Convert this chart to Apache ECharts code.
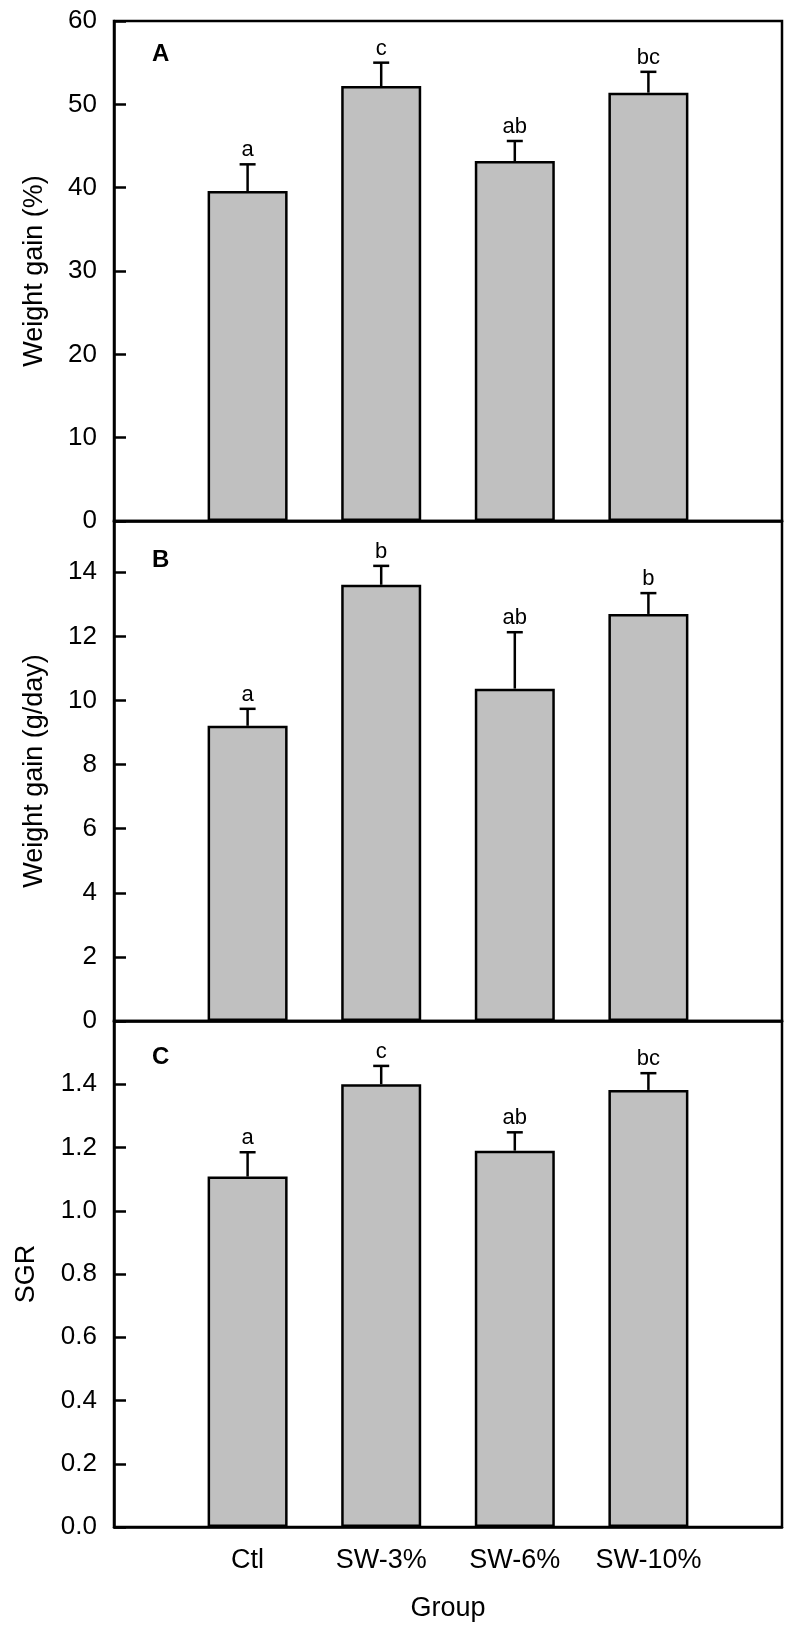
<!DOCTYPE html>
<html>
<head>
<meta charset="utf-8">
<script src="https://cdn.jsdelivr.net/npm/echarts@6/dist/echarts.min.js"></script>
<style>
html,body{margin:0;padding:0;background:#fff;}
#chart{width:800px;height:1635px;}
</style>
</head>
<body>
<div id="chart"></div>
<script>
// ---- data ----
var categories = ['', 'Ctl', 'SW-3%', 'SW-6%', 'SW-10%', ''];
var groupIdx = [1, 2, 3, 4];

var wgPctMean = [39.6, 52.2, 43.2, 51.4];
var wgPctErr  = [3.2, 2.8, 2.4, 2.5];
var wgPctSig  = ['a', 'c', 'ab', 'bc'];

var wgDayMean = [9.21, 13.61, 10.37, 12.70];
var wgDayErr  = [0.53, 0.59, 1.76, 0.65];
var wgDaySig  = ['a', 'b', 'ab', 'b'];

var sgrMean = [1.108, 1.40, 1.19, 1.382];
var sgrErr  = [0.077, 0.058, 0.058, 0.053];
var sgrSig  = ['a', 'c', 'ab', 'bc'];

var panelLetters = ['A', 'B', 'C'];
var yTitles = ['Weight gain (%)', 'Weight gain (g/day)', 'SGR'];
var xTitle = 'Group';

// ---- styling ----
var FONT = '"Liberation Sans", Arial, sans-serif';
var grids = [
  {left: 114, right: 18, top: 21, height: 500},
  {left: 114, right: 18, top: 521, height: 500},
  {left: 114, right: 18, top: 1021, height: 506}
];
var yCfg = [
  {min: 0, max: 60, interval: 10, dec: 0, gap: 66},
  {min: 0, max: 15.6, interval: 2, dec: 0, gap: 66},
  {min: 0, max: 1.6, interval: 0.2, dec: 1, gap: 74}
];

var means = [wgPctMean, wgDayMean, sgrMean];
var errs = [wgPctErr, wgDayErr, sgrErr];
var sigs = [wgPctSig, wgDaySig, sgrSig];

function barData(m) {
  var d = categories.map(function () { return null; });
  groupIdx.forEach(function (ci, i) { d[ci] = m[i]; });
  return d;
}
function errData(m, e, s) {
  return groupIdx.map(function (ci, i) { return [ci, m[i], m[i] + e[i], s[i]]; });
}

function renderErr(params, api) {
  var x = api.value(0);
  var p0 = api.coord([x, api.value(1)]);
  var p1 = api.coord([x, api.value(2)]);
  var half = 8;
  var ls = {stroke: '#000', lineWidth: 2.5};
  return {
    type: 'group',
    children: [
      {type: 'line', shape: {x1: p0[0], y1: p0[1], x2: p1[0], y2: p1[1]}, style: ls},
      {type: 'line', shape: {x1: p1[0] - half, y1: p1[1], x2: p1[0] + half, y2: p1[1]}, style: ls},
      {type: 'text', x: p1[0], y: p1[1] - 3,
        style: {text: String(api.value(3)), fill: '#000', font: '22px ' + FONT, align: 'center', verticalAlign: 'bottom'}}
    ]
  };
}

var xAxes = [], yAxes = [], series = [], graphics = [];
for (var k = 0; k < 3; k++) {
  var last = k === 2;
  xAxes.push({
    gridIndex: k, type: 'category', data: categories, boundaryGap: false,
    axisLine: {show: true, lineStyle: {color: '#000', width: 2.5}},
    axisTick: {show: false},
    axisLabel: {show: last, color: '#000', fontSize: 27, fontFamily: FONT, margin: 20, interval: 0},
    splitLine: {show: false},
    name: last ? xTitle : '', nameLocation: 'middle', nameGap: 68,
    nameTextStyle: {color: '#000', fontSize: 27, fontFamily: FONT}
  });
  (function (cfg) {
    yAxes.push({
      gridIndex: k, type: 'value', min: cfg.min, max: cfg.max, interval: cfg.interval,
      axisLine: {show: true, lineStyle: {color: '#000', width: 2.5}},
      axisTick: {show: true, inside: true, length: 12, lineStyle: {color: '#000', width: 2.5}},
      axisLabel: {color: '#000', fontSize: 26, fontFamily: FONT, margin: 17, showMaxLabel: k === 0,
        formatter: function (v) { return v.toFixed(cfg.dec); }},
      splitLine: {show: false},
      name: yTitles[k], nameLocation: 'middle', nameGap: cfg.gap,
      nameTextStyle: {color: '#000', fontSize: 27, fontFamily: FONT}
    });
  })(yCfg[k]);
  series.push({
    type: 'bar', xAxisIndex: k, yAxisIndex: k, data: barData(means[k]), barWidth: 80,
    itemStyle: {color: '#c0c0c0', borderColor: '#000', borderWidth: 2.5},
    silent: true, animation: false
  });
  series.push({
    type: 'custom', xAxisIndex: k, yAxisIndex: k, data: errData(means[k], errs[k], sigs[k]),
    renderItem: renderErr, silent: true, animation: false, z: 5
  });
}

var panelY = [55, 561, 1058];
panelLetters.forEach(function (t, i) {
  graphics.push({type: 'text', left: 152, top: panelY[i] - 13,
    style: {text: t, fill: '#000', font: 'bold 24px ' + FONT}});
});

var gridOpts = grids.map(function (g) {
  return Object.assign({show: true, borderColor: '#000', borderWidth: 2.5, backgroundColor: 'transparent'}, g);
});

var chart = echarts.init(document.getElementById('chart'), null, {renderer: 'canvas'});
chart.setOption({
  animation: false,
  backgroundColor: '#fff',
  grid: gridOpts,
  xAxis: xAxes,
  yAxis: yAxes,
  series: series,
  graphic: graphics
});
</script>
</body>
</html>
